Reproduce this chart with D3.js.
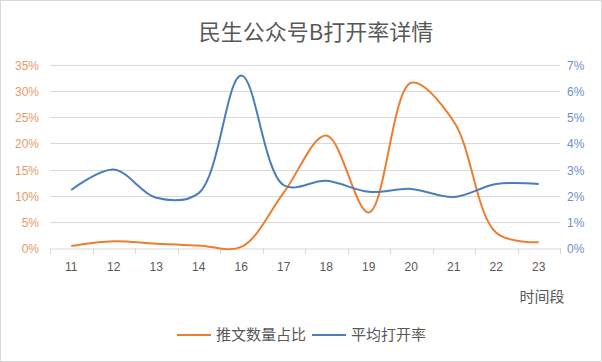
<!DOCTYPE html>
<html lang="zh">
<head>
<meta charset="UTF-8">
<script src="https://cdnjs.cloudflare.com/ajax/libs/d3/7.8.5/d3.min.js"></script>
<style>
    body { margin: 0; background: #fff; }
    text { font-family: "Noto Sans CJK SC", "Liberation Sans", sans-serif; }
    .tick-num { font-family: "Liberation Sans", sans-serif; font-size: 12px; }
</style>
</head>
<body>
<svg id="chart" width="602" height="362"></svg>
<script>
    // data
    var hours = ['11', '12', '13', '14', '16', '17', '18', '19', '20', '21', '22', '23'];
    var postShare = [0.4, 1.3, 0.8, 0.5, 0.2, 10.6, 21.5, 6.8, 31.6, 24.2, 2.9, 1.1];
    var openRate = [2.22, 3.0, 1.92, 2.1, 6.6, 2.4, 2.57, 2.15, 2.26, 1.95, 2.45, 2.45];
    var leftTicks = [0, 5, 10, 15, 20, 25, 30, 35];
    var rightTicks = [0, 1, 2, 3, 4, 5, 6, 7];

    var orange = '#ED7D31', blue = '#4A7EBB';
    var svg = d3.select('#chart');

    svg.append('rect')
        .attr('x', 0.5).attr('y', 0.5)
        .attr('width', 601).attr('height', 361)
        .attr('fill', '#fff').attr('stroke', '#d9d9d9');

    var plotL = 50, plotR = 560, plotT = 65, plotB = 248;

    var x = d3.scaleBand().domain(hours).range([plotL, plotR]);
    var yL = d3.scaleLinear().domain([0, 35]).range([plotB, plotT]);
    var yR = d3.scaleLinear().domain([0, 7]).range([plotB, plotT]);

    // grid
    svg.append('g').selectAll('line')
        .data(leftTicks.slice(1))
        .enter().append('line')
        .attr('x1', plotL).attr('x2', plotR)
        .attr('y1', function(d) { return Math.round(yL(d)) + 0.5; })
        .attr('y2', function(d) { return Math.round(yL(d)) + 0.5; })
        .attr('stroke', '#d9d9d9');

    // bottom axis
    var xAxis = d3.axisBottom(x).tickSize(0).tickPadding(14);
    var gx = svg.append('g')
        .attr('transform', 'translate(0,' + (plotB + 0.5) + ')')
        .call(xAxis);
    gx.select('.domain').attr('stroke', '#d9d9d9');
    gx.selectAll('text').attr('class', 'tick-num').attr('fill', '#595959').attr('font-size', 13);
    svg.append('g').selectAll('line')
        .data(d3.range(hours.length + 1))
        .enter().append('line')
        .attr('x1', function(i) { return Math.round(plotL + i * x.step()) + 0.5; })
        .attr('x2', function(i) { return Math.round(plotL + i * x.step()) + 0.5; })
        .attr('y1', plotB).attr('y2', plotB + 6)
        .attr('stroke', '#d9d9d9');

    // left axis
    svg.append('g').selectAll('text')
        .data(leftTicks)
        .enter().append('text')
        .attr('class', 'tick-num')
        .attr('x', 39)
        .attr('y', function(d) { return yL(d) + 5; })
        .attr('text-anchor', 'end')
        .attr('fill', '#E69A6A')
        .attr('font-size', 13)
        .text(function(d) { return d + '%'; });

    // right axis
    svg.append('g').selectAll('text')
        .data(rightTicks)
        .enter().append('text')
        .attr('class', 'tick-num')
        .attr('x', 567)
        .attr('y', function(d) { return yR(d) + 5; })
        .attr('fill', '#6D8FC6')
        .attr('font-size', 13)
        .text(function(d) { return d + '%'; });

    var cx = function(d, i) { return x(hours[i]) + x.bandwidth() / 2; };

    var lineL = d3.line().x(cx).y(function(d) { return yL(d); }).curve(d3.curveCatmullRom.alpha(0.5));
    var lineR = d3.line().x(cx).y(function(d) { return yR(d); }).curve(d3.curveCatmullRom.alpha(0.5));

    svg.append('path').datum(postShare)
        .attr('d', lineL)
        .attr('fill', 'none').attr('stroke', orange).attr('stroke-width', 2);

    svg.append('path').datum(openRate)
        .attr('d', lineR)
        .attr('fill', 'none').attr('stroke', blue).attr('stroke-width', 2);

    // title
    svg.append('text')
        .attr('x', 316).attr('y', 40)
        .attr('text-anchor', 'middle')
        .attr('font-size', 22)
        .attr('fill', '#595959')
        .text('民生公众号B打开率详情');

    svg.append('text')
        .attr('x', 542).attr('y', 302)
        .attr('text-anchor', 'middle')
        .attr('font-size', 15)
        .attr('fill', '#595959')
        .text('时间段');

    // legend
    var legend = [
        {name: '推文数量占比', color: orange, x: 177},
        {name: '平均打开率', color: blue, x: 312}
    ];
    var lg = svg.append('g').selectAll('g')
        .data(legend)
        .enter().append('g')
        .attr('transform', function(d) { return 'translate(' + d.x + ',335)'; });
    lg.append('line')
        .attr('x1', 0).attr('x2', 34)
        .attr('stroke', function(d) { return d.color; })
        .attr('stroke-width', 2);
    lg.append('text')
        .attr('x', 39).attr('y', 5)
        .attr('font-size', 15)
        .attr('fill', '#595959')
        .text(function(d) { return d.name; });
</script>
</body>
</html>
